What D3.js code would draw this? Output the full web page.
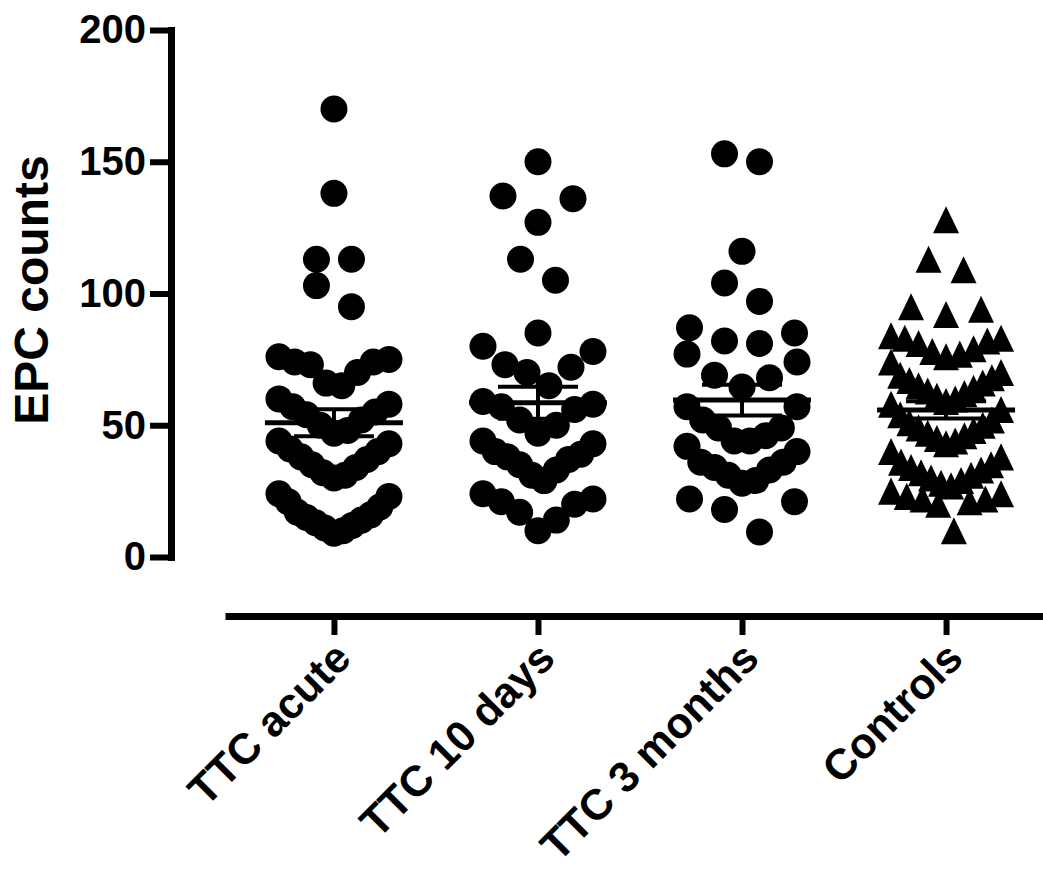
<!DOCTYPE html>
<html>
<head>
<meta charset="utf-8">
<script src="https://cdn.jsdelivr.net/npm/d3@7"></script>
<style>
  body { margin: 0; background: #fff; }
  svg { display: block; }
  text { font-family: "Liberation Sans", Arial, sans-serif; font-weight: bold; fill: #000; }
</style>
</head>
<body>
<svg id="chart" width="1043" height="878"></svg>
<script>
// EPC counts per group
const categories = ["TTC acute", "TTC 10 days", "TTC 3 months", "Controls"];

const ttcAcute = [9, 10, 11, 12, 13, 14, 15, 16, 17, 19, 21, 23, 24,
  30, 31, 32, 34, 35, 37, 38, 40, 41, 43, 44,
  47, 48, 50, 52, 54, 55, 57, 58, 60,
  65, 66, 70, 73, 74, 74, 75, 76,
  95, 103, 113, 113, 138, 170];

const ttc10Days = [10, 14, 17, 20, 21, 22, 24,
  29, 31, 33, 35, 37, 38, 39, 40, 43, 44,
  47, 50, 52, 56, 57, 58, 59,
  65, 70, 72, 73, 78, 80,
  85, 105, 113, 127, 136, 137, 150];

const ttc3Months = [9.5, 18, 21, 22,
  28, 29, 31, 33, 34, 36, 36, 40, 42,
  44, 44, 46, 49, 49, 52, 57, 57,
  64.5, 68, 69, 74, 77,
  81, 82, 85, 87,
  97, 104, 116, 150, 153];

const controls = [10, 20, 21, 22, 22, 23, 24, 25,
  27, 28, 29, 30, 31, 32, 33, 34, 35, 36, 38, 40,
  43, 44, 45, 46, 47, 48, 49, 50, 51, 52, 54, 56,
  58, 59, 60, 61, 62, 63, 64, 65, 66, 67, 68, 69, 70,
  74, 76, 77, 78, 79, 81, 82, 83, 83, 84,
  92, 94, 95, 109, 113, 128];

const yTicks = [0, 50, 100, 150, 200];

const groups = [ttcAcute, ttc10Days, ttc3Months, controls];
const groupSymbols = ["circle", "circle", "circle", "triangle"];

const svg = d3.select("#chart");

const y = d3.scaleLinear().domain([0, 200]).range([557, 30]);
const x = d3.scalePoint().domain(categories).range([225, 1055]).padding(0.534);

// ---- y axis ----
const yAxis = svg.append("g")
  .attr("transform", "translate(171,0)")
  .call(d3.axisLeft(y).tickValues(yTicks).tickSize(21).tickSizeOuter(0).tickPadding(4));
yAxis.select(".domain").attr("stroke", "#000").attr("stroke-width", 7).attr("stroke-linecap", "square");
yAxis.selectAll(".tick line").attr("stroke", "#000").attr("stroke-width", 6);
yAxis.selectAll(".tick text").style("font-size", "40px");

svg.append("text")
  .attr("transform", "translate(48,290) rotate(-90)")
  .attr("text-anchor", "middle")
  .style("font-size", "48px")
  .text("EPC counts");

// ---- x axis (detached from the y axis) ----
const xAxis = svg.append("g")
  .attr("transform", "translate(0,616)")
  .call(d3.axisBottom(x).tickSize(19).tickSizeOuter(0));
xAxis.select(".domain").attr("stroke", "#000").attr("stroke-width", 7);
xAxis.selectAll(".tick line").attr("stroke", "#000").attr("stroke-width", 6);
xAxis.selectAll(".tick text")
  .attr("x", 0).attr("y", 0).attr("dy", "0.35em")
  .attr("text-anchor", "end")
  .attr("transform", "translate(8,34) rotate(-45)")
  .style("font-size", "43px");

// ---- scatter layout: values grouped into rows, spread symmetrically ----
function swarmOffsets(values, rowSpan, maxWidth, maxStep) {
  const order = d3.range(values.length).sort((a, b) => values[a] - values[b]);
  const offsets = new Array(values.length).fill(0);
  let i = 0;
  while (i < order.length) {
    const start = values[order[i]];
    let j = i;
    while (j < order.length && values[order[j]] < start + rowSpan) j++;
    const row = order.slice(i, j);
    const n = row.length;
    const step = n > 1 ? Math.min(maxStep, maxWidth / (n - 1)) : 0;
    const slots = d3.range(n).map(k => k - (n - 1) / 2)
      .sort((a, b) => Math.abs(a) - Math.abs(b) || b - a);
    row.forEach((idx, k) => { offsets[idx] = slots[k] * step; });
    i = j;
  }
  return offsets;
}

// upright triangle centred on its bounding box
const triangleShape = {
  draw(context, size) {
    const w = Math.sqrt(size);
    const h = w * 1.04;
    context.moveTo(0, -h / 2);
    context.lineTo(w / 2, h / 2);
    context.lineTo(-w / 2, h / 2);
    context.closePath();
  }
};

const bars = svg.append("g").attr("stroke", "#000");
const plot = svg.append("g");

groups.forEach((vals, gi) => {
  const cx = x(categories[gi]);

  // mean with SEM, drawn beneath the markers
  const m = d3.mean(vals);
  const sem = d3.deviation(vals) / Math.sqrt(vals.length);
  bars.append("line")
    .attr("x1", cx - 69).attr("x2", cx + 69)
    .attr("y1", y(m)).attr("y2", y(m))
    .attr("stroke-width", 5);
  bars.append("line")
    .attr("x1", cx).attr("x2", cx)
    .attr("y1", y(m - sem)).attr("y2", y(m + sem))
    .attr("stroke-width", 4);
  [m - sem, m + sem].forEach(v => {
    bars.append("line")
      .attr("x1", cx - 40).attr("x2", cx + 40)
      .attr("y1", y(v)).attr("y2", y(v))
      .attr("stroke-width", 4);
  });

  const offs = swarmOffsets(vals, 16, 110, 35);
  const pts = vals.map((v, i) => ({ v, dx: offs[i] }));
  const g = plot.append("g");

  if (groupSymbols[gi] === "circle") {
    g.selectAll("circle").data(pts).join("circle")
      .attr("cx", d => cx + d.dx)
      .attr("cy", d => y(d.v))
      .attr("r", 13.5)
      .attr("fill", "#000");
  } else {
    g.selectAll("path").data(pts).join("path")
      .attr("transform", d => `translate(${cx + d.dx},${y(d.v)})`)
      .attr("d", d3.symbol().type(triangleShape).size(26 * 26))
      .attr("fill", "#000");
  }
});
</script>
</body>
</html>
